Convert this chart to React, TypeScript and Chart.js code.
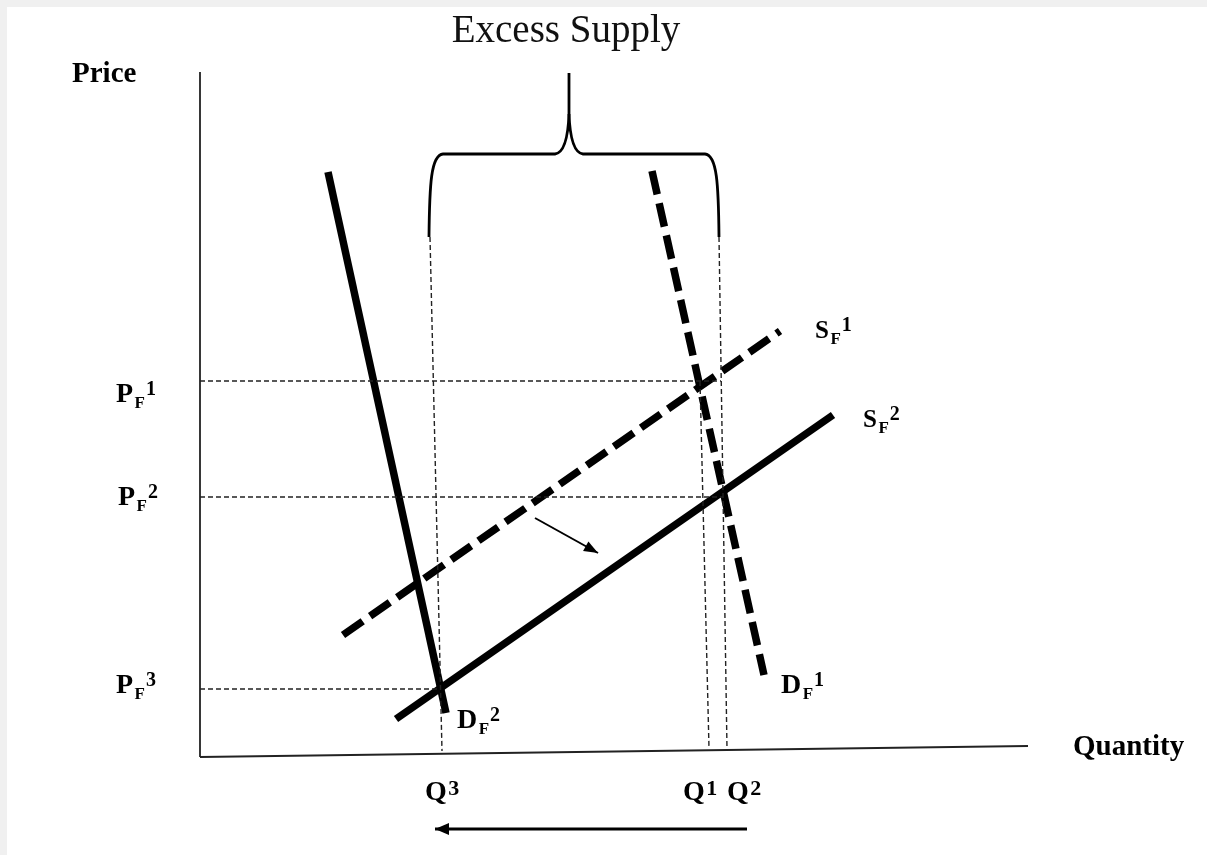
import React, { useEffect, useRef } from "react";
import { Chart, registerables } from "chart.js";

Chart.register(...registerables);

// ---- coordinate system (quantity on x, price on y; origin = corner of the axes) ----
const X_MIN = -19.3;
const X_MAX = 100.7;
const Y_MIN = -9.8;
const Y_MAX = 75.0;

// ---- curves ----
const demand1X = [45.2, 56.4];
const demand1Y = [58.6, 8.2];
const demand2X = [12.8, 24.6];
const demand2Y = [58.5, 4.4];
const supply1X = [14.3, 58.0];
const supply1Y = [12.2, 42.6];
const supply2X = [19.6, 63.3];
const supply2Y = [3.8, 34.2];

// ---- axes ----
const yAxisX = [0, 0];
const yAxisY = [68.5, 0];
const xAxisX = [0, 82.8];
const xAxisY = [0, 1.1];

// ---- guide lines: price levels PF1, PF2, PF3 ----
const priceLevels = [37.6, 26.0, 6.8];
const priceGuideEnds = [52.1, 52.3, 24.1];

// ---- guide lines: quantities Q3, Q1, Q2 ----
const qGuideTopX = [23.0, 50.0, 51.9];
const qGuideTopY = [52.0, 37.6, 52.0];
const qGuideBotX = [24.2, 50.9, 52.7];
const qGuideBotY = [0.6, 0.9, 0.8];

// ---- brace over the excess supply: [left arm, stem, right arm] / [arm ends, bar, tip] ----
const braceX = [22.9, 36.9, 51.9];
const braceY = [52.0, 60.3, 68.4];

// ---- arrows ----
const shiftArrowX = [33.5, 39.8];
const shiftArrowY = [23.9, 20.4];
const qArrowX = [54.7, 23.5];
const qArrowY = [-7.2, -7.2];

// ---- texts ----
const titleText = "Excess Supply";
const titlePos = [36.6, 71.5];
const yTitle = "Price";
const yTitlePos = [-12.8, 67.5];
const xTitle = "Quantity";
const xTitlePos = [87.3, 0.2];

const labelMain = ["P", "P", "P", "S", "S", "D", "D", "Q", "Q", "Q"];
const labelSub = ["F", "F", "F", "F", "F", "F", "F", "", "", ""];
const labelSup = ["1", "2", "3", "1", "2", "1", "2", "3", "1", "2"];
const labelX = [-8.4, -8.2, -8.4, 61.5, 66.3, 58.1, 25.7, 22.5, 48.3, 52.7];
const labelY = [35.5, 25.2, 6.4, 41.9, 33.0, 6.4, 2.9, -4.3, -4.3, -4.3];

const SERIF = '"Liberation Serif", "Times New Roman", serif';

function pts(xs: number[], ys: number[]) {
  return xs.map((x, i) => ({ x, y: ys[i] }));
}

function seg(xs: number[], ys: number[], style: any) {
  return {
    data: pts(xs, ys),
    showLine: true,
    pointRadius: 0,
    pointHoverRadius: 0,
    fill: false,
    borderColor: "#000",
    borderCapStyle: "butt",
    ...style,
  };
}

function arrowHead(ctx: CanvasRenderingContext2D, x0: number, y0: number, x1: number, y1: number, len: number, half: number) {
  const a = Math.atan2(y1 - y0, x1 - x0);
  const bx = x1 - len * Math.cos(a);
  const by = y1 - len * Math.sin(a);
  const nx = -Math.sin(a);
  const ny = Math.cos(a);
  ctx.beginPath();
  ctx.moveTo(x1, y1);
  ctx.lineTo(bx + nx * half, by + ny * half);
  ctx.lineTo(bx - nx * half, by - ny * half);
  ctx.closePath();
  ctx.fill();
}

const overlayPlugin = {
  id: "overlay",
  beforeDraw(chart: any) {
    const { ctx, width, height } = chart;
    ctx.save();
    ctx.fillStyle = "#fff";
    ctx.fillRect(0, 0, width, height);
    ctx.restore();
  },
  afterDatasetsDraw(chart: any) {
    const ctx: CanvasRenderingContext2D = chart.ctx;
    const xs = chart.scales.x;
    const ys = chart.scales.y;
    const px = (v: number) => xs.getPixelForValue(v);
    const py = (v: number) => ys.getPixelForValue(v);

    ctx.save();
    // ---- brace ----
    const xl = px(braceX[0]);
    const xc = px(braceX[1]);
    const xr = px(braceX[2]);
    const yEnd = py(braceY[0]);
    const yBar = py(braceY[1]);
    const yTip = py(braceY[2]);
    ctx.strokeStyle = "#000";
    ctx.lineWidth = 2.8;
    ctx.lineCap = "butt";
    ctx.lineJoin = "round";
    ctx.beginPath();
    ctx.moveTo(xl, yEnd);
    ctx.bezierCurveTo(xl + 0.5, yBar + 30, xl + 2, yBar + 1, xl + 14, yBar);
    ctx.lineTo(xc - 14, yBar);
    ctx.bezierCurveTo(xc - 6, yBar - 1, xc - 1, yBar - 14, xc, yBar - 40);
    ctx.lineTo(xc, yTip);
    ctx.stroke();
    ctx.beginPath();
    ctx.moveTo(xc, yBar - 40);
    ctx.bezierCurveTo(xc + 1, yBar - 14, xc + 6, yBar - 1, xc + 14, yBar);
    ctx.lineTo(xr - 14, yBar);
    ctx.bezierCurveTo(xr - 2, yBar + 1, xr - 0.5, yBar + 30, xr, yEnd);
    ctx.stroke();

    // ---- arrowheads ----
    ctx.fillStyle = "#000";
    arrowHead(ctx, px(shiftArrowX[0]), py(shiftArrowY[0]), px(shiftArrowX[1]), py(shiftArrowY[1]), 14, 5.5);
    arrowHead(ctx, px(qArrowX[0]), py(qArrowY[0]), px(qArrowX[1]), py(qArrowY[1]), 14, 6);

    // ---- texts ----
    ctx.fillStyle = "#111";
    ctx.textBaseline = "alphabetic";
    ctx.textAlign = "center";
    ctx.font = `39px ${SERIF}`;
    ctx.fillText(titleText, px(titlePos[0]), py(titlePos[1]));

    ctx.textAlign = "left";
    ctx.fillStyle = "#000";
    ctx.font = `bold 29px ${SERIF}`;
    ctx.fillText(yTitle, px(yTitlePos[0]), py(yTitlePos[1]));
    ctx.fillText(xTitle, px(xTitlePos[0]), py(xTitlePos[1]));

    labelMain.forEach((m, i) => {
      const small = m === "S";
      const isQ = m === "Q";
      const mainSize = small ? 25 : 28;
      const subSize = small ? 17 : 17;
      const supSize = isQ ? 22 : small ? 20 : 20;
      const raise = isQ ? 5 : 7;
      let x = px(labelX[i]);
      const y = py(labelY[i]);
      ctx.font = `bold ${mainSize}px ${SERIF}`;
      ctx.fillText(m, x, y);
      x += ctx.measureText(m).width + 1.5;
      if (labelSub[i]) {
        ctx.font = `bold ${subSize}px ${SERIF}`;
        ctx.fillText(labelSub[i], x, y + 6);
        x += ctx.measureText(labelSub[i]).width + 1;
      }
      ctx.font = `bold ${supSize}px ${SERIF}`;
      ctx.fillText(labelSup[i], x, y - raise);
    });
    ctx.restore();
  },
};

export default function App() {
  const canvasRef = useRef<HTMLCanvasElement | null>(null);

  useEffect(() => {
    document.body.style.margin = "0";
    document.body.style.background = "#f0f0f0";
    const canvas = canvasRef.current;
    if (!canvas) return;

    const thick = { borderWidth: 7.5 };
    const thickDash = { borderWidth: 7.5, borderDash: [24, 9] };
    const guide = { borderWidth: 1.4, borderDash: [5, 3], borderColor: "#222" };
    const axis = { borderWidth: 1.8, borderColor: "#222" };

    const datasets: any[] = [
      seg(yAxisX, yAxisY, axis),
      seg(xAxisX, xAxisY, axis),
      ...priceLevels.map((p, i) => seg([0, priceGuideEnds[i]], [p, p], guide)),
      ...qGuideTopX.map((_, i) =>
        seg([qGuideTopX[i], qGuideBotX[i]], [qGuideTopY[i], qGuideBotY[i]], guide)
      ),
      seg(demand2X, demand2Y, thick),
      seg(supply2X, supply2Y, thick),
      seg(demand1X, demand1Y, thickDash),
      seg(supply1X, supply1Y, thickDash),
      seg(shiftArrowX, shiftArrowY, { borderWidth: 2 }),
      seg(qArrowX, qArrowY, { borderWidth: 3 }),
    ];

    const chart = new Chart(canvas, {
      type: "scatter",
      data: { datasets },
      options: {
        animation: false,
        responsive: true,
        maintainAspectRatio: false,
        events: [],
        layout: { padding: 0 },
        plugins: {
          legend: { display: false },
          tooltip: { enabled: false },
          title: { display: false },
        },
        scales: {
          x: { type: "linear", min: X_MIN, max: X_MAX, display: false },
          y: { type: "linear", min: Y_MIN, max: Y_MAX, display: false },
        },
      },
      plugins: [overlayPlugin],
    } as any);

    return () => chart.destroy();
  }, []);

  return (
    <div
      style={{
        position: "fixed",
        left: 7,
        top: 7,
        width: 1200,
        height: 848,
        background: "#fff",
      }}
    >
      <canvas ref={canvasRef} style={{ display: "block" }} />
    </div>
  );
}
